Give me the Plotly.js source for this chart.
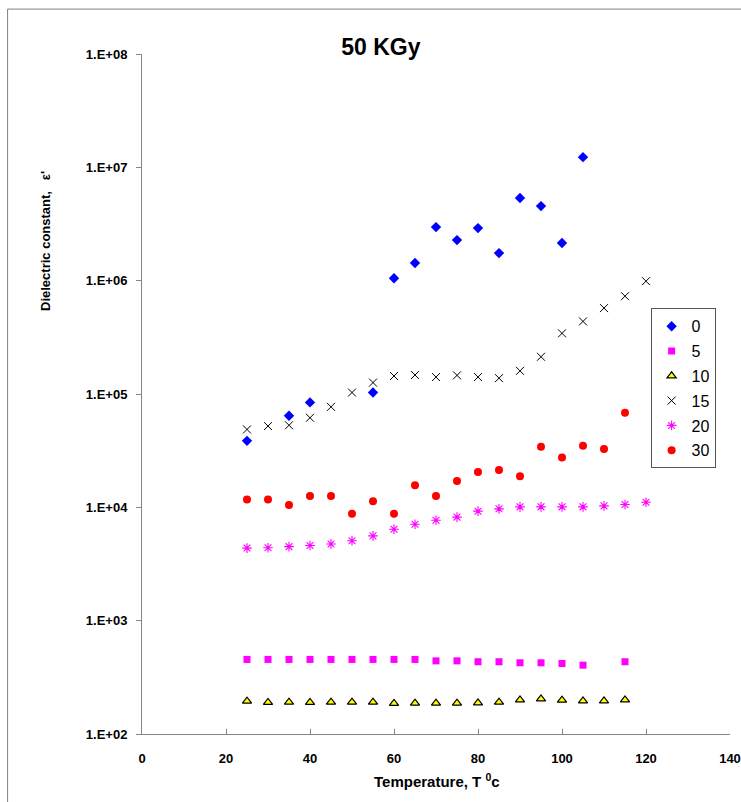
<!DOCTYPE html>
<html>
<head>
<meta charset="utf-8">
<script src="https://cdn.plot.ly/plotly-3.0.1.min.js"></script>
<style>html,body{margin:0;padding:0;background:#fff;}#chart{width:741px;height:802px;}</style>
</head>
<body>
<div id="chart"></div>
<script>
// Temperature (°C) and dielectric constant for each series
const t0  = [25,35,40,55,60,65,70,75,80,85,90,95,100,105];
const e0  = [3.86e4,6.43e4,8.43e4,1.03e5,1.05e6,1.43e6,2.97e6,2.28e6,2.91e6,1.75e6,5.36e6,4.55e6,2.15e6,1.23e7];

const t5  = [25,30,35,40,45,50,55,60,65,70,75,80,85,90,95,100,105,115];
const e5  = [455,455,455,455,455,455,455,455,455,442,442,434,434,425,425,419,405,434];

const t10 = [25,30,35,40,45,50,55,60,65,70,75,80,85,90,95,100,105,110,115];
const e10 = [195,190,191,190,191,191,191,186,187,187,187,188,191,200,204,199,196,196,200];

const t15 = [25,30,35,40,45,50,55,60,65,70,75,80,85,90,95,100,105,110,115,120];
const e15 = [4.87e4,5.21e4,5.3e4,6.17e4,7.7e4,1.03e5,1.26e5,1.44e5,1.47e5,1.41e5,1.46e5,1.41e5,1.38e5,1.60e5,2.13e5,3.43e5,4.37e5,5.73e5,7.3e5,9.9e5];

const t20 = [25,30,35,40,45,50,55,60,65,70,75,80,85,90,95,100,105,110,115,120];
const e20 = [4.37e3,4.4e3,4.5e3,4.6e3,4.75e3,5.07e3,5.6e3,6.4e3,7.1e3,7.7e3,8.2e3,9.25e3,9.7e3,1.01e4,1.01e4,1.01e4,1.01e4,1.03e4,1.06e4,1.11e4];

const t30 = [25,30,35,40,45,50,55,60,65,70,75,80,85,90,95,100,105,110,115];
const e30 = [1.17e4,1.17e4,1.05e4,1.26e4,1.26e4,8.8e3,1.13e4,8.8e3,1.57e4,1.26e4,1.71e4,2.05e4,2.13e4,1.88e4,3.42e4,2.75e4,3.49e4,3.27e4,6.83e4];

const seriesNames = ['0','5','10','15','20','30'];
const yTickVals = [1e2,1e3,1e4,1e5,1e6,1e7,1e8];
const yTickText = ['1.E+02','1.E+03','1.E+04','1.E+05','1.E+06','1.E+07','1.E+08'];
const xTickVals = [0,20,40,60,80,100,120,140];

const FONT = 'Liberation Sans, Arial, sans-serif';

const traces = [
  {x:t0, y:e0, name:seriesNames[0], legendgroup:'g0', mode:'markers', type:'scatter',
   marker:{symbol:'diamond', size:8, color:'#0000FF'}},
  {x:t5, y:e5, name:seriesNames[1], legendgroup:'g1', mode:'markers', type:'scatter',
   marker:{symbol:'square', size:7, color:'#FF00FF'}},
  {x:t10, y:e10, name:seriesNames[2], legendgroup:'g2', mode:'markers', type:'scatter',
   marker:{symbol:'triangle-up', size:8, color:'#FFFF00', line:{color:'#000000', width:1.2}}},
  {x:t15, y:e15, name:seriesNames[3], legendgroup:'g3', mode:'markers', type:'scatter',
   marker:{symbol:'x-thin-open', size:8, color:'#000000', line:{color:'#000000', width:1}}},
  {x:t20, y:e20, name:seriesNames[4], legendgroup:'g4', mode:'markers', type:'scatter',
   marker:{symbol:'asterisk-open', size:8, color:'#FF00FF', line:{color:'#FF00FF', width:1.1}}},
  {x:t30, y:e30, name:seriesNames[5], legendgroup:'g5', mode:'markers', type:'scatter',
   marker:{symbol:'circle', size:8, color:'#FF0000'}}
];

const layout = {
  width:741, height:802,
  margin:{l:142, r:11, t:54, b:68},
  paper_bgcolor:'#ffffff', plot_bgcolor:'#ffffff',
  font:{family:FONT, color:'#000'},
  showlegend:true,
  title:{text:'<b>50 KGy</b>', font:{family:FONT, size:23, color:'#000'},
         xref:'container', x:0.514, xanchor:'center', yref:'container', y:0.941, yanchor:'middle'},
  xaxis:{range:[0,140], tickvals:xTickVals, ticktext:xTickVals.map(String),
         showgrid:false, zeroline:false, showline:true, linecolor:'#868686', linewidth:1,
         ticks:'inside', ticklen:5, tickcolor:'#868686', ticklabelstandoff:12,
         ticklabeloverflow:'allow',
         tickfont:{family:FONT, size:13, color:'#000', weight:'bold'}},
  yaxis:{type:'log', range:[2,8], tickvals:yTickVals, ticktext:yTickText,
         showgrid:false, zeroline:false, showline:true, linecolor:'#868686', linewidth:1,
         ticks:'outside', ticklen:5, tickcolor:'#868686', ticklabelstandoff:6,
         ticklabeloverflow:'allow',
         tickfont:{family:FONT, size:13, color:'#000', weight:'bold'}},
  legend:{x:0.865, y:0.626, xanchor:'left', yanchor:'top',
          bgcolor:'#ffffff', bordercolor:'#555555', borderwidth:1,
          font:{family:FONT, size:16, color:'#000'}, itemwidth:30, tracegroupgap:1},
  annotations:[
    {text:'<b>Dielectric constant,   ε\'</b>', xref:'paper', yref:'paper', x:-0.165, y:0.725,
     textangle:-90, showarrow:false, xanchor:'center', yanchor:'middle',
     font:{family:FONT, size:13, color:'#000'}},
    {text:'<b>Temperature, T <sup>0</sup>c</b>', xref:'paper', yref:'paper', x:0.502, y:-0.068,
     showarrow:false, xanchor:'center', yanchor:'middle',
     font:{family:FONT, size:15, color:'#000'}}
  ],
  shapes:[
    {type:'rect', xref:'paper', yref:'paper', x0:-0.2286, x1:1.1, y0:-0.2, y1:1.066,
     line:{color:'#7f7f7f', width:1}, fillcolor:'rgba(0,0,0,0)', layer:'below'}
  ]
};

Plotly.newPlot('chart', traces, layout, {displayModeBar:false, staticPlot:true});
</script>
</body>
</html>
